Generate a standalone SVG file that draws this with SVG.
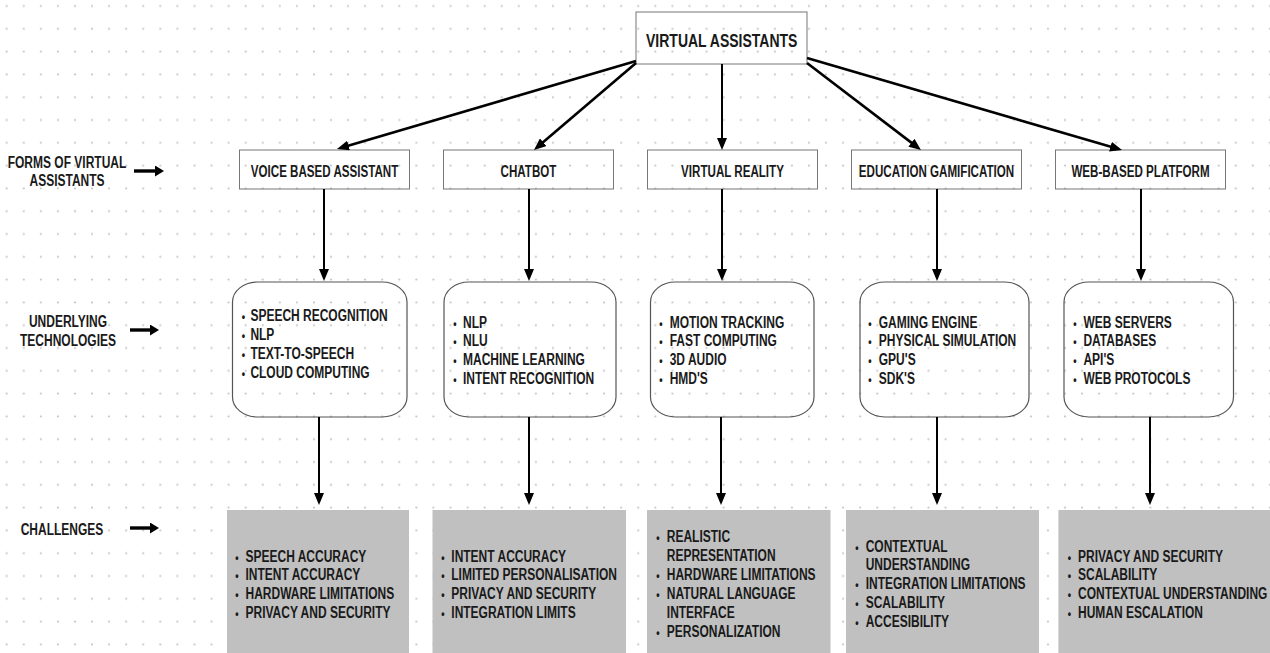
<svg xmlns="http://www.w3.org/2000/svg" width="1270" height="653" viewBox="0 0 1270 653">
<defs>
<pattern id="dots" x="-1.835" y="-5.4" width="17.07" height="22.8" patternUnits="userSpaceOnUse">
<circle cx="8.535" cy="11.4" r="1.1" fill="#c4c4c4"/>
</pattern>
<marker id="ah" markerWidth="12" markerHeight="10" refX="4" refY="5" orient="auto" markerUnits="userSpaceOnUse">
<path d="M0,0 L12,5 L0,10 z" fill="#000"/>
</marker>
<marker id="ah2" markerWidth="9" markerHeight="11" refX="2" refY="5.5" orient="auto" markerUnits="userSpaceOnUse">
<path d="M0,0 L9,5.5 L0,11 z" fill="#000"/>
</marker>
<style>
.t{font-family:"Liberation Sans",Arial,sans-serif;font-weight:bold;fill:#1a1a1a;font-size:12px}
.c{text-anchor:middle}
.b{text-anchor:middle;font-size:9.5px}
.box{fill:none;stroke:#777;stroke-width:1}
.rbox{fill:none;stroke:#555;stroke-width:1.2}
.gbox{fill:#c0c0c0;stroke:none}
.diag{stroke:#000;stroke-width:2.6;fill:none;marker-end:url(#ah)}
.vert{stroke:#000;stroke-width:2;fill:none;marker-end:url(#ah)}
.side{stroke:#000;stroke-width:3.4;fill:none;marker-end:url(#ah2)}
</style>
</defs>
<rect width="1270" height="653" fill="#fff"/>
<rect width="1270" height="653" fill="url(#dots)"/>

<g id="row-labels">
<text class="t c" transform="translate(67,168.2) scale(1,1.36)">FORMS OF VIRTUAL</text>
<text class="t c" transform="translate(67,185.9) scale(1,1.36)">ASSISTANTS</text>
<text class="t c" transform="translate(68,326.9) scale(1,1.36)">UNDERLYING</text>
<text class="t c" transform="translate(68,345.9) scale(1,1.36)">TECHNOLOGIES</text>
<text class="t c" transform="translate(62,534.6) scale(1,1.36)">CHALLENGES</text>
</g>

<g id="root">
<rect class="box" x="636" y="12" width="171" height="52"/>
<text class="t c" style="font-size:14px" transform="translate(721.7,46.8) scale(1,1.36)">VIRTUAL ASSISTANTS</text>
</g>

<g id="form-voice">
<rect class="box" x="239.5" y="150" width="170" height="39"/>
<text class="t c" style="font-size:11.6px" transform="translate(324.5,177) scale(1,1.36)">VOICE BASED ASSISTANT</text>
</g>
<g id="form-chatbot">
<rect class="box" x="443.5" y="150" width="170" height="39"/>
<text class="t c" style="font-size:11.6px" transform="translate(528.5,177) scale(1,1.36)">CHATBOT</text>
</g>
<g id="form-vr">
<rect class="box" x="647.5" y="150" width="170" height="39"/>
<text class="t c" style="font-size:11.6px" transform="translate(732.5,177) scale(1,1.36)">VIRTUAL REALITY</text>
</g>
<g id="form-edu">
<rect class="box" x="851.5" y="150" width="170" height="39"/>
<text class="t c" style="font-size:11.6px" transform="translate(936.5,177) scale(1,1.36)">EDUCATION GAMIFICATION</text>
</g>
<g id="form-web">
<rect class="box" x="1055.5" y="150" width="170" height="39"/>
<text class="t c" style="font-size:11.6px" transform="translate(1140.5,177) scale(1,1.36)">WEB-BASED PLATFORM</text>
</g>

<g id="tech-voice">
<rect class="rbox" x="232.5" y="282" width="174.5" height="135" rx="25" ry="20"/>
<text class="t" transform="translate(0,321) scale(1,1.36)">
<tspan class="b" x="243.5" y="0">•</tspan><tspan x="250.4" y="0">SPEECH RECOGNITION</tspan>
<tspan class="b" x="243.5" y="13.97">•</tspan><tspan x="250.4" y="13.97">NLP</tspan>
<tspan class="b" x="243.5" y="27.94">•</tspan><tspan x="250.4" y="27.94">TEXT-TO-SPEECH</tspan>
<tspan class="b" x="243.5" y="41.91">•</tspan><tspan x="250.4" y="41.91">CLOUD COMPUTING</tspan>
</text>
</g>
<g id="tech-chatbot">
<rect class="rbox" x="444" y="282" width="172" height="135" rx="25" ry="20"/>
<text class="t" transform="translate(0,327.5) scale(1,1.36)">
<tspan class="b" x="455" y="0">•</tspan><tspan x="463" y="0">NLP</tspan>
<tspan class="b" x="455" y="13.97">•</tspan><tspan x="463" y="13.97">NLU</tspan>
<tspan class="b" x="455" y="27.94">•</tspan><tspan x="463" y="27.94">MACHINE LEARNING</tspan>
<tspan class="b" x="455" y="41.91">•</tspan><tspan x="463" y="41.91">INTENT RECOGNITION</tspan>
</text>
</g>
<g id="tech-vr">
<rect class="rbox" x="650.5" y="282" width="163.5" height="135" rx="25" ry="20"/>
<text class="t" transform="translate(0,327.5) scale(1,1.36)">
<tspan class="b" x="661" y="0">•</tspan><tspan x="669.7" y="0">MOTION TRACKING</tspan>
<tspan class="b" x="661" y="13.97">•</tspan><tspan x="669.7" y="13.97">FAST COMPUTING</tspan>
<tspan class="b" x="661" y="27.94">•</tspan><tspan x="669.7" y="27.94">3D AUDIO</tspan>
<tspan class="b" x="661" y="41.91">•</tspan><tspan x="669.7" y="41.91">HMD'S</tspan>
</text>
</g>
<g id="tech-edu">
<rect class="rbox" x="860" y="282" width="169" height="135" rx="25" ry="20"/>
<text class="t" transform="translate(0,327.5) scale(1,1.36)">
<tspan class="b" x="870" y="0">•</tspan><tspan x="878.8" y="0">GAMING ENGINE</tspan>
<tspan class="b" x="870" y="13.97">•</tspan><tspan x="878.8" y="13.97">PHYSICAL SIMULATION</tspan>
<tspan class="b" x="870" y="27.94">•</tspan><tspan x="878.8" y="27.94">GPU'S</tspan>
<tspan class="b" x="870" y="41.91">•</tspan><tspan x="878.8" y="41.91">SDK'S</tspan>
</text>
</g>
<g id="tech-web">
<rect class="rbox" x="1064" y="282" width="169.5" height="135" rx="25" ry="20"/>
<text class="t" transform="translate(0,327.5) scale(1,1.36)">
<tspan class="b" x="1075" y="0">•</tspan><tspan x="1083.4" y="0">WEB SERVERS</tspan>
<tspan class="b" x="1075" y="13.97">•</tspan><tspan x="1083.4" y="13.97">DATABASES</tspan>
<tspan class="b" x="1075" y="27.94">•</tspan><tspan x="1083.4" y="27.94">API'S</tspan>
<tspan class="b" x="1075" y="41.91">•</tspan><tspan x="1083.4" y="41.91">WEB PROTOCOLS</tspan>
</text>
</g>

<g id="chal-voice">
<rect class="gbox" x="227" y="510" width="182" height="143"/>
<text class="t" transform="translate(0,561.5) scale(1,1.36)">
<tspan class="b" x="237" y="0">•</tspan><tspan x="245.5" y="0">SPEECH ACCURACY</tspan>
<tspan class="b" x="237" y="13.97">•</tspan><tspan x="245.5" y="13.97">INTENT ACCURACY</tspan>
<tspan class="b" x="237" y="27.94">•</tspan><tspan x="245.5" y="27.94">HARDWARE LIMITATIONS</tspan>
<tspan class="b" x="237" y="41.91">•</tspan><tspan x="245.5" y="41.91">PRIVACY AND SECURITY</tspan>
</text>
</g>
<g id="chal-chatbot">
<rect class="gbox" x="432.5" y="510" width="193.5" height="143"/>
<text class="t" transform="translate(0,561.5) scale(1,1.36)">
<tspan class="b" x="443" y="0">•</tspan><tspan x="451.3" y="0">INTENT ACCURACY</tspan>
<tspan class="b" x="443" y="13.97">•</tspan><tspan x="451.3" y="13.97">LIMITED PERSONALISATION</tspan>
<tspan class="b" x="443" y="27.94">•</tspan><tspan x="451.3" y="27.94">PRIVACY AND SECURITY</tspan>
<tspan class="b" x="443" y="41.91">•</tspan><tspan x="451.3" y="41.91">INTEGRATION LIMITS</tspan>
</text>
</g>
<g id="chal-vr">
<rect class="gbox" x="647" y="510" width="183.5" height="143"/>
<text class="t" transform="translate(0,542) scale(1,1.36)">
<tspan class="b" x="658" y="0">•</tspan><tspan x="666.8" y="0">REALISTIC</tspan>
<tspan x="666.8" y="13.97">REPRESENTATION</tspan>
<tspan class="b" x="658" y="27.94">•</tspan><tspan x="666.8" y="27.94">HARDWARE LIMITATIONS</tspan>
<tspan class="b" x="658" y="41.91">•</tspan><tspan x="666.8" y="41.91">NATURAL LANGUAGE</tspan>
<tspan x="666.8" y="55.88">INTERFACE</tspan>
<tspan class="b" x="658" y="69.85">•</tspan><tspan x="666.8" y="69.85">PERSONALIZATION</tspan>
</text>
</g>
<g id="chal-edu">
<rect class="gbox" x="846" y="510" width="193" height="143"/>
<text class="t" transform="translate(0,551.5) scale(1,1.36)">
<tspan class="b" x="857" y="0">•</tspan><tspan x="865.7" y="0">CONTEXTUAL</tspan>
<tspan x="865.7" y="13.97">UNDERSTANDING</tspan>
<tspan class="b" x="857" y="27.94">•</tspan><tspan x="865.7" y="27.94">INTEGRATION LIMITATIONS</tspan>
<tspan class="b" x="857" y="41.91">•</tspan><tspan x="865.7" y="41.91">SCALABILITY</tspan>
<tspan class="b" x="857" y="55.88">•</tspan><tspan x="865.7" y="55.88">ACCESIBILITY</tspan>
</text>
</g>
<g id="chal-web">
<rect class="gbox" x="1058.4" y="510" width="211.6" height="143"/>
<text class="t" transform="translate(0,561.5) scale(1,1.36)">
<tspan class="b" x="1069.5" y="0">•</tspan><tspan x="1078" y="0">PRIVACY AND SECURITY</tspan>
<tspan class="b" x="1069.5" y="13.97">•</tspan><tspan x="1078" y="13.97">SCALABILITY</tspan>
<tspan class="b" x="1069.5" y="27.94">•</tspan><tspan x="1078" y="27.94">CONTEXTUAL UNDERSTANDING</tspan>
<tspan class="b" x="1069.5" y="41.91">•</tspan><tspan x="1078" y="41.91">HUMAN ESCALATION</tspan>
</text>
</g>

<g id="connectors">
<line class="side" x1="134" y1="171" x2="157" y2="171"/>
<line class="side" x1="130" y1="330" x2="152" y2="330"/>
<line class="side" x1="130" y1="528" x2="152" y2="528"/>
<line class="diag" x1="636" y1="61" x2="344.7" y2="146.7"/>
<line class="diag" x1="636" y1="63" x2="540.1" y2="144.8"/>
<line class="vert" x1="722" y1="64" x2="722" y2="142"/>
<line class="diag" x1="807" y1="63" x2="914.6" y2="145.1"/>
<line class="diag" x1="807" y1="58" x2="1114.3" y2="147.8"/>
<line class="vert" x1="324" y1="189" x2="324" y2="273"/>
<line class="vert" x1="529" y1="189" x2="529" y2="273"/>
<line class="vert" x1="722" y1="189" x2="722" y2="273"/>
<line class="vert" x1="937" y1="189" x2="937" y2="273"/>
<line class="vert" x1="1141" y1="189" x2="1141" y2="273"/>
<line class="vert" x1="319" y1="417" x2="319" y2="497"/>
<line class="vert" x1="529" y1="417" x2="529" y2="497"/>
<line class="vert" x1="721" y1="417" x2="721" y2="497"/>
<line class="vert" x1="937" y1="417" x2="937" y2="497"/>
<line class="vert" x1="1150" y1="417" x2="1150" y2="497"/>
</g>
</svg>
